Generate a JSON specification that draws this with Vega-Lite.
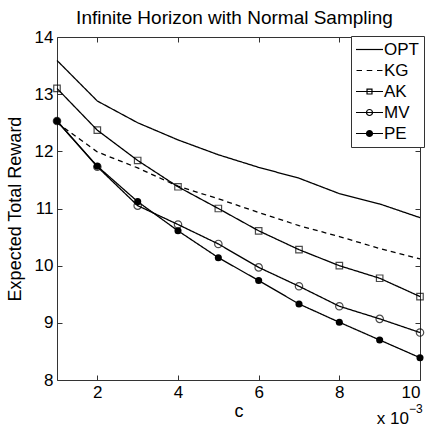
{
  "$schema": "https://vega.github.io/schema/vega-lite/v6.json",
  "autosize": "none",
  "width": 363,
  "height": 343,
  "padding": {"left": 57, "top": 37, "right": 11, "bottom": 47},
  "background": "white",
  "title": {"text": "Infinite Horizon with Normal Sampling", "font": "Liberation Sans", "fontSize": 19, "fontWeight": "normal", "color": "black", "anchor": "middle", "offset": 0, "dx": -4},
  "config": {
    "view": {"stroke": "#333333", "strokeWidth": 1},
    "axis": {"labelFont": "Liberation Sans", "titleFont": "Liberation Sans", "labelFontSize": 17, "titleFontSize": 18, "titleFontWeight": "normal", "labelColor": "black", "titleColor": "black", "grid": false, "domain": false, "tickColor": "#333333", "tickSize": -5, "tickWidth": 1}
  },
  "datasets": {
    "main": [
      {"series": "OPT", "c": 1, "reward": 13.59}, {"series": "OPT", "c": 2, "reward": 12.88}, {"series": "OPT", "c": 3, "reward": 12.50}, {"series": "OPT", "c": 4, "reward": 12.20}, {"series": "OPT", "c": 5, "reward": 11.94}, {"series": "OPT", "c": 6, "reward": 11.72}, {"series": "OPT", "c": 7, "reward": 11.53}, {"series": "OPT", "c": 8, "reward": 11.26}, {"series": "OPT", "c": 9, "reward": 11.08}, {"series": "OPT", "c": 10, "reward": 10.84},
      {"series": "KG", "c": 1, "reward": 12.50}, {"series": "KG", "c": 2, "reward": 11.99}, {"series": "KG", "c": 3, "reward": 11.71}, {"series": "KG", "c": 4, "reward": 11.39}, {"series": "KG", "c": 5, "reward": 11.17}, {"series": "KG", "c": 6, "reward": 10.93}, {"series": "KG", "c": 7, "reward": 10.70}, {"series": "KG", "c": 8, "reward": 10.51}, {"series": "KG", "c": 9, "reward": 10.30}, {"series": "KG", "c": 10, "reward": 10.12},
      {"series": "AK", "c": 1, "reward": 13.10}, {"series": "AK", "c": 2, "reward": 12.37}, {"series": "AK", "c": 3, "reward": 11.84}, {"series": "AK", "c": 4, "reward": 11.38}, {"series": "AK", "c": 5, "reward": 11.00}, {"series": "AK", "c": 6, "reward": 10.61}, {"series": "AK", "c": 7, "reward": 10.28}, {"series": "AK", "c": 8, "reward": 10.00}, {"series": "AK", "c": 9, "reward": 9.78}, {"series": "AK", "c": 10, "reward": 9.46},
      {"series": "MV", "c": 1, "reward": 12.53}, {"series": "MV", "c": 2, "reward": 11.73}, {"series": "MV", "c": 3, "reward": 11.05}, {"series": "MV", "c": 4, "reward": 10.72}, {"series": "MV", "c": 5, "reward": 10.38}, {"series": "MV", "c": 6, "reward": 9.97}, {"series": "MV", "c": 7, "reward": 9.64}, {"series": "MV", "c": 8, "reward": 9.29}, {"series": "MV", "c": 9, "reward": 9.07}, {"series": "MV", "c": 10, "reward": 8.83},
      {"series": "PE", "c": 1, "reward": 12.53}, {"series": "PE", "c": 2, "reward": 11.74}, {"series": "PE", "c": 3, "reward": 11.12}, {"series": "PE", "c": 4, "reward": 10.61}, {"series": "PE", "c": 5, "reward": 10.14}, {"series": "PE", "c": 6, "reward": 9.74}, {"series": "PE", "c": 7, "reward": 9.33}, {"series": "PE", "c": 8, "reward": 9.01}, {"series": "PE", "c": 9, "reward": 8.70}, {"series": "PE", "c": 10, "reward": 8.39}
    ],
    "notes": [
      {"c": 10, "reward": 8, "main": "x 10", "sup": "−3"}
    ]
  },
  "data": {"name": "main"},
  "layer": [
    {
      "mark": {"type": "line", "color": "black", "strokeWidth": 1.3},
      "encoding": {
        "x": {"field": "c", "type": "quantitative", "title": "c", "scale": {"domain": [1, 10], "nice": false, "zero": false},
              "axis": {"orient": "bottom", "values": [2, 4, 6, 8, 10], "labelPadding": 9, "titlePadding": 2}},
        "y": {"field": "reward", "type": "quantitative", "title": "Expected Total Reward", "scale": {"domain": [8, 14], "nice": false, "zero": false},
              "axis": {"orient": "left", "values": [8, 9, 10, 11, 12, 13, 14], "format": "d", "labelPadding": 9, "titlePadding": 10}},
        "detail": {"field": "series"},
        "strokeDash": {"field": "series", "type": "nominal", "legend": null,
                       "scale": {"domain": ["OPT", "KG", "AK", "MV", "PE"], "range": [[1, 0], [5, 4], [1, 0], [1, 0], [1, 0]]}}
      }
    },
    {
      "transform": [{"filter": "datum.series == 'AK'"}],
      "mark": {"type": "point", "shape": "square", "filled": false, "color": "black", "size": 42, "strokeWidth": 1.2},
      "encoding": {"x": {"field": "c", "type": "quantitative", "axis": null}, "y": {"field": "reward", "type": "quantitative", "axis": null}}
    },
    {
      "transform": [{"filter": "datum.series == 'MV'"}],
      "mark": {"type": "point", "shape": "circle", "filled": false, "color": "black", "size": 55, "strokeWidth": 1.2},
      "encoding": {"x": {"field": "c", "type": "quantitative", "axis": null}, "y": {"field": "reward", "type": "quantitative", "axis": null}}
    },
    {
      "transform": [{"filter": "datum.series == 'PE'"}],
      "mark": {"type": "point", "shape": "circle", "filled": true, "color": "black", "size": 50, "opacity": 1},
      "encoding": {"x": {"field": "c", "type": "quantitative", "axis": null}, "y": {"field": "reward", "type": "quantitative", "axis": null}}
    },
    {
      "mark": {"type": "point", "opacity": 0, "filled": false},
      "encoding": {
        "x": {"field": "c", "type": "quantitative", "axis": {"orient": "top", "values": [2, 4, 6, 8, 10], "labels": false, "title": null}},
        "y": {"field": "reward", "type": "quantitative", "axis": {"orient": "right", "values": [8, 9, 10, 11, 12, 13, 14], "labels": false, "title": null}},
        "shape": {"field": "series", "type": "nominal",
          "scale": {"domain": ["OPT", "KG", "AK", "MV", "PE"],
                    "range": ["M-1.8,0H1.8", "M-1.73,0H-1.0M-0.37,0H0.37M1.0,0H1.73", "M-1.8,0H1.8M-0.33,-0.33H0.33V0.33H-0.33Z", "M-1.8,0H1.8M-0.4,0A0.4,0.4,0,1,0,0.4,0A0.4,0.4,0,1,0,-0.4,0Z", "M-1.8,0H1.8M-0.4,0A0.4,0.4,0,1,0,0.4,0A0.4,0.4,0,1,0,-0.4,0ZM-0.3,0A0.3,0.3,0,1,0,0.3,0A0.3,0.3,0,1,0,-0.3,0ZM-0.2,0A0.2,0.2,0,1,0,0.2,0A0.2,0.2,0,1,0,-0.2,0ZM-0.1,0A0.1,0.1,0,1,0,0.1,0A0.1,0.1,0,1,0,-0.1,0Z"]},
          "legend": {"title": null, "orient": "none", "legendX": 294, "legendY": -1, "symbolSize": 225, "symbolStrokeColor": "black", "symbolStrokeWidth": 1.2, "symbolOpacity": 1, "symbolFillColor": "transparent", "labelFont": "Liberation Sans", "labelFontSize": 17, "labelColor": "black", "labelOffset": 6, "symbolOffset": 5, "padding": 5, "rowPadding": 3, "strokeColor": "#333333", "fillColor": "white"}
        }
      }
    },
    {
      "data": {"name": "notes"},
      "mark": {"type": "text", "align": "right", "baseline": "alphabetic", "dx": -11, "dy": 44, "font": "Liberation Sans", "fontSize": 17, "color": "black"},
      "encoding": {"x": {"field": "c", "type": "quantitative", "axis": null}, "y": {"field": "reward", "type": "quantitative", "axis": null}, "text": {"field": "main"}}
    },
    {
      "data": {"name": "notes"},
      "mark": {"type": "text", "align": "left", "baseline": "alphabetic", "dx": -11, "dy": 33, "font": "Liberation Sans", "fontSize": 12, "color": "black"},
      "encoding": {"x": {"field": "c", "type": "quantitative", "axis": null}, "y": {"field": "reward", "type": "quantitative", "axis": null}, "text": {"field": "sup"}}
    }
  ],
  "resolve": {"scale": {"shape": "independent"}, "axis": {"x": "independent", "y": "independent"}}
}
